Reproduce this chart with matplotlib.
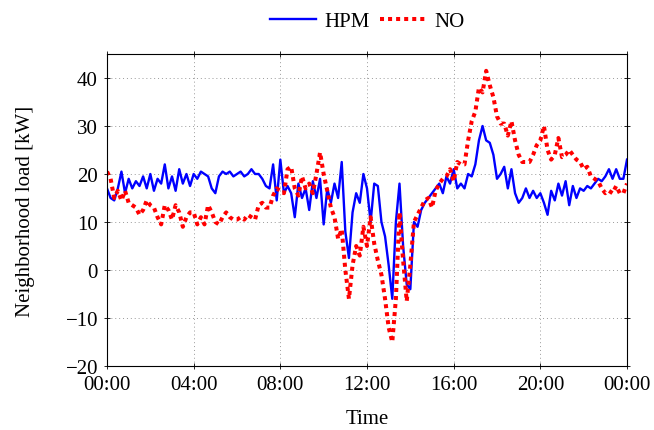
import matplotlib
matplotlib.use("Agg")
import matplotlib.pyplot as plt
import numpy as np

plt.rcParams['font.family'] = ['Liberation Serif', 'DejaVu Serif']
plt.rcParams['axes.unicode_minus'] = True

# 10-minute resolution, 00:00 .. 24:00
hpm = [17, 15, 14.5, 17, 20.5, 16, 19, 17, 18.5, 17.5, 19.5, 17, 20, 16.5, 19, 18, 22, 17,
       19.5, 16.5, 21, 18, 20, 17.5, 20, 19, 20.5, 20, 19.5, 17, 16, 19.5, 20.5, 20, 20.5, 19.5,
       20, 20.5, 19.5, 20, 21, 20, 20, 19, 17.5, 17, 22, 14.5, 23, 16, 17.5, 16, 11, 18,
       15, 17, 12.5, 18.5, 15, 19, 9.5, 17, 14, 18, 15, 22.5, 8, 2.5, 12, 16, 14, 20,
       17, 10, 18, 17.5, 10, 7, 1, -6, 10, 18, 5, -3, -4, 10, 9, 12.5, 14, 15,
       16, 17, 18, 16, 19.5, 18, 21, 17, 18, 17, 20, 19.5, 22, 27, 30, 27, 26.5, 24,
       19, 20, 21.5, 17, 21, 16, 14, 15, 17, 15, 16.5, 15, 16, 14, 11.5, 16.5, 14.5, 18,
       15.5, 18.5, 13.5, 17.5, 15, 17, 16.5, 17.5, 17, 18, 19, 18.5, 19.5, 21, 19, 21, 19, 19, 23]
no = [20.5, 19, 15, 16.5, 14.5, 16.5, 14, 13.5, 13, 11.5, 12.5, 14.5, 13.5, 13, 11, 9.5, 13.5, 12.5,
      10.5, 13.5, 12, 9, 11, 12, 12, 9.5, 11, 9.5, 13.5, 12, 10, 9.5, 11, 12, 11, 10.5,
      10.5, 11, 10.5, 11.5, 11, 10.5, 13.5, 14, 13, 13, 15.5, 17, 16.5, 16, 21, 21.5, 17, 15.5,
      19.5, 17, 18, 16, 20, 24.5, 20, 16.5, 13, 11, 6.5, 8.5, 0, -6, 1, 5, 3, 9,
      5, 11, 5.5, 2, -1, -6, -12, -15, -6, 12, 2, -6.5, 1, 10, 11.5, 13, 14.5, 15,
      13, 16.5, 18, 19, 19.5, 21, 18.5, 22.5, 22, 22, 27, 31, 33, 38, 37, 41.5, 38.5, 36,
      32, 30.5, 30.5, 28, 31, 27, 24, 22.5, 22.5, 22.5, 24, 26, 27, 30, 25, 23, 24, 27.5,
      23.5, 24, 25, 24, 23, 22.5, 21, 21.5, 19.5, 19, 18.5, 17, 16, 16.5, 16, 17.5, 16, 16, 18]
hours = np.arange(len(hpm)) / 6.0
xtick_pos = [0, 4, 8, 12, 16, 20, 24]
xtick_labels = ['00:00', '04:00', '08:00', '12:00', '16:00', '20:00', '00:00']
ytick_pos = [-20, -10, 0, 10, 20, 30, 40]

FS = 15

fig = plt.figure(figsize=(6.54, 4.31), dpi=100)
ax = fig.add_axes([107/654, 1-367/431, 520/654, 312/431])
ax.plot(hours, hpm, color='#0000ff', lw=1.7, label='HPM')
ax.plot(hours, no, color='#ff0000', lw=2.9, ls=(0, (1, 1.0)), label='NO')
ax.set_xlim(0, 24)
ax.set_ylim(-20, 45)
ax.set_xticks(xtick_pos)
ax.set_xticklabels(xtick_labels)
ax.set_yticks(ytick_pos)
ax.set_yticklabels([('\u2212%d' % -v) if v < 0 else str(v) for v in ytick_pos])
ax.tick_params(direction='inout', top=True, right=True, labelsize=FS, length=5, width=0.6, pad=4)
ax.grid(True, ls=(0, (1, 3)), color='#999999', lw=0.7)
for s in ax.spines.values():
    s.set_linewidth(0.8)
ax.set_xlabel('Time', fontsize=FS, labelpad=11)
ax.set_ylabel('Neighborhood load [kW]', fontsize=FS, labelpad=22)
ax.legend(loc='lower center', bbox_to_anchor=(0.5, 1.047), ncol=2, frameon=False,
          fontsize=FS, handlelength=2.2, columnspacing=0.5, handletextpad=0.4, borderaxespad=0)
fig.savefig('out.png', dpi=100)
